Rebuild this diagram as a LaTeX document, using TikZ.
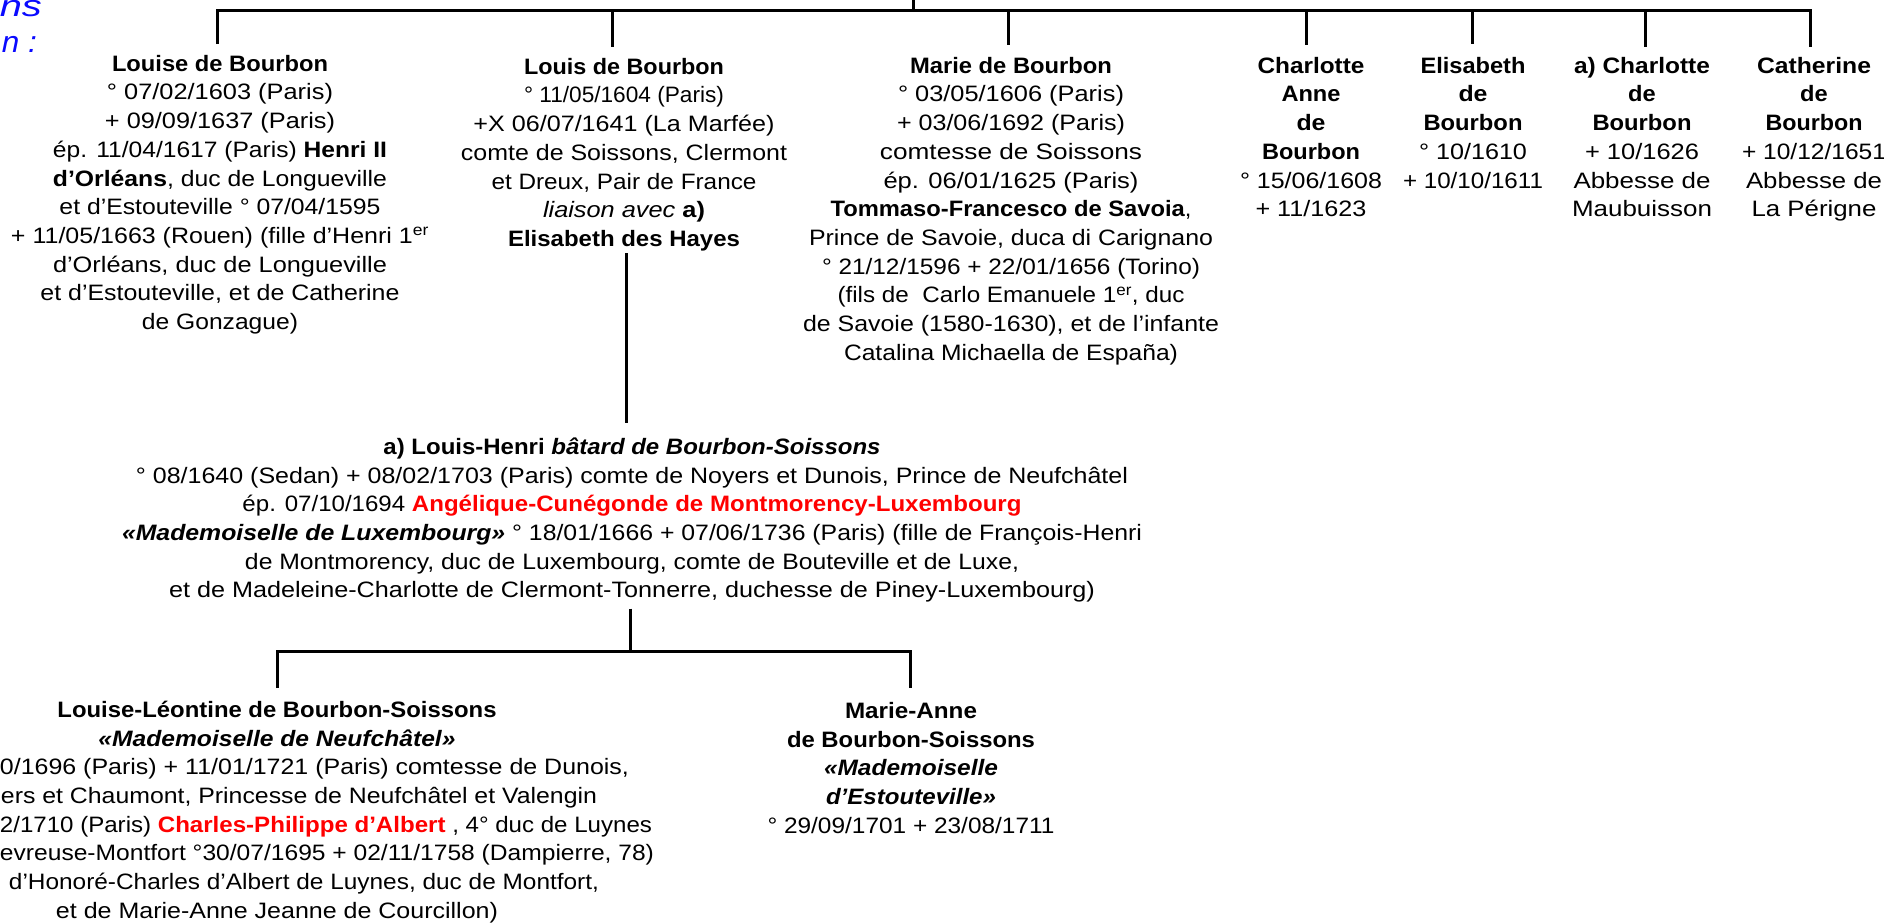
\documentclass[tikz,border=0pt]{standalone}
\usepackage{fontspec}
\setmainfont{Liberation Sans}[FakeStretch=1.06]
\usepackage{xcolor}
\usepackage{graphicx}
\definecolor{redname}{RGB}{255,0,0}
\definecolor{bluetitle}{RGB}{10,10,255}
\newcommand\fs{\fontsize{22.3}{28.7}\selectfont}
\newcommand\rd[1]{\textcolor{redname}{\textbf{#1}}}
\newcommand\bi[1]{\textbf{\textit{#1}}}
% one line, set to the width that the reference gives it
\newcommand\W[2]{\resizebox{#1pt}{\height}{#2}}
\begin{document}
\begin{tikzpicture}[x=1pt,y=-1pt,
  ln/.style={line width=3pt},
  person/.style={anchor=north,inner sep=0pt,align=center,font=\fs},
  titletext/.style={anchor=base east,inner sep=0pt,text=bluetitle,font=\fontsize{30}{36}\selectfont\itshape}]
\useasboundingbox (0,0) rectangle (1884,922);

% blue title fragments
\node[titletext] (t1) at (42,16) {\W{42}{ns}};
\node[titletext] (t2) at (37,52) {\W{35}{n :}};

% first generation
\node[person] (louise) at (220,51) {\strut\W{216}{\textbf{Louise de Bourbon}}\\
\W{226}{° 07/02/1603 (Paris)}\\
\W{230}{+ 09/09/1637 (Paris)}\\
\W{334}{ép. 11/04/1617 (Paris) \textbf{Henri II}}\\
\W{334}{\textbf{d’Orléans}, duc de Longueville}\\
\W{321}{et d’Estouteville ° 07/04/1595}\\
\W{418}{+ 11/05/1663 (Rouen) (fille d’Henri 1\textsuperscript{er}}\\
\W{334}{d’Orléans, duc de Longueville}\\
\W{359}{et d’Estouteville, et de Catherine}\\
\W{156}{de Gonzague)}};

\node[person] (louis) at (624,54) {\strut\W{200}{\textbf{Louis de Bourbon}}\\
\W{200}{° 11/05/1604 (Paris)}\\
\W{301}{+X 06/07/1641 (La Marfée)}\\
\W{326}{comte de Soissons, Clermont}\\
\W{265}{et Dreux, Pair de France}\\
\W{162}{\textit{liaison avec} \textbf{a)}}\\
\W{232}{\textbf{Elisabeth des Hayes}}};

\node[person] (marie) at (1011,53) {\strut\W{202}{\textbf{Marie de Bourbon}}\\
\W{226}{° 03/05/1606 (Paris)}\\
\W{228}{+ 03/06/1692 (Paris)}\\
\W{262}{comtesse de Soissons}\\
\W{255}{ép. 06/01/1625 (Paris)}\\
\W{361}{\textbf{Tommaso-Francesco de Savoia},}\\
\W{404}{Prince de Savoie, duca di Carignano}\\
\W{378}{° 21/12/1596 + 22/01/1656 (Torino)}\\
\W{347}{(fils de~ Carlo Emanuele 1\textsuperscript{er}, duc}\\
\W{416}{de Savoie (1580-1630), et de l’infante}\\
\W{334}{Catalina Michaella de España)}};

\node[person] (charlanne) at (1311,53) {\strut\W{107}{\textbf{Charlotte}}\\
\W{59}{\textbf{Anne}}\\
\W{29}{\textbf{de}}\\
\W{98}{\textbf{Bourbon}}\\
\W{142}{° 15/06/1608}\\
\W{111}{+ 11/1623}};

\node[person] (elisab) at (1473,53) {\strut\W{105}{\textbf{Elisabeth}}\\
\W{29}{\textbf{de}}\\
\W{99}{\textbf{Bourbon}}\\
\W{108}{° 10/1610}\\
\W{140}{+ 10/10/1611}};

\node[person] (acharl) at (1642,53) {\strut\W{136}{\textbf{a) Charlotte}}\\
\textbf{de}\\
\W{99}{\textbf{Bourbon}}\\
\W{114}{+ 10/1626}\\
\W{137}{Abbesse de}\\
\W{140}{Maubuisson}};

\node[person] (cather) at (1814,53) {\strut\W{114}{\textbf{Catherine}}\\
\textbf{de}\\
\W{97}{\textbf{Bourbon}}\\
\W{144}{+ 10/12/1651}\\
\W{136}{Abbesse de}\\
\W{125}{La Périgne}};

% second generation
\node[person] (louishenri) at (632,434) {\strut\W{497}{\textbf{a) Louis-Henri \textit{bâtard de Bourbon-Soissons}}}\\
\W{992}{° 08/1640 (Sedan) + 08/02/1703 (Paris) comte de Noyers et Dunois, Prince de Neufchâtel}\\
\W{779}{ép. 07/10/1694 \rd{Angélique-Cunégonde de Montmorency-Luxembourg}}\\
\W{1020}{\bi{«Mademoiselle de Luxembourg»} ° 18/01/1666 + 07/06/1736 (Paris) (fille de François-Henri}\\
\W{774}{de Montmorency, duc de Luxembourg, comte de Bouteville et de Luxe,}\\
\W{926}{et de Madeleine-Charlotte de Clermont-Tonnerre, duchesse de Piney-Luxembourg)}};

% third generation
\node[person] (leontine) at (277,697) {\strut\W{439}{\textbf{Louise-Léontine de Bourbon-Soissons}}\\
\W{357}{\bi{«Mademoiselle de Neufchâtel»}}\\
\makebox[704pt][r]{\W{629}{0/1696 (Paris) + 11/01/1721 (Paris) comtesse de Dunois,}}\\
\makebox[640pt][r]{\W{596}{ers et Chaumont, Princesse de Neufchâtel et Valengin}}\\
\makebox[750pt][r]{\W{652}{2/1710 (Paris) \rd{Charles-Philippe d’Albert} , 4° duc de Luynes}}\\
\makebox[754pt][r]{\W{654}{evreuse-Montfort °30/07/1695 + 02/11/1758 (Dampierre, 78)}}\\
\makebox[644pt][r]{\W{590}{d’Honoré-Charles d’Albert de Luynes, duc de Montfort,}}\\
\W{442}{et de Marie-Anne Jeanne de Courcillon)}};

\node[person] (marieanne) at (911,698) {\strut\W{132}{\textbf{Marie-Anne}}\\
\W{248}{\textbf{de Bourbon-Soissons}}\\
\W{174}{\bi{«Mademoiselle}}\\
\W{170}{\bi{d’Estouteville»}}\\
\W{287}{° 29/09/1701 + 23/08/1711}};

% connectors, generation 1
\coordinate (parent) at (913,0);
\coordinate (bar1) at (913,10);
\coordinate (dLouise) at ([xshift=-3pt,yshift=7pt]louise.north);
\coordinate (dLouis) at ([xshift=-12pt,yshift=7pt]louis.north);
\coordinate (dMarie) at ([xshift=-3pt,yshift=8pt]marie.north);
\coordinate (dCharlA) at ([xshift=-5pt,yshift=8pt]charlanne.north);
\coordinate (dElis) at ([xshift=-1pt,yshift=9pt]elisab.north);
\coordinate (dACharl) at ([xshift=3pt,yshift=6pt]acharl.north);
\coordinate (dCath) at ([xshift=-4pt,yshift=6pt]cather.north);
\draw[ln] (parent) -- (bar1);
\draw[ln] (dLouise) -- (dLouise |- bar1) -- (dCath |- bar1) -- (dCath);
\foreach \d in {dLouis,dMarie,dCharlA,dElis,dACharl}
  \draw[ln] (\d |- bar1) -- (\d);

% Louis -> Louis-Henri
\coordinate (lsrc) at ([xshift=2pt,yshift=-2pt]louis.south);
\coordinate (ldst) at ([yshift=11pt]louishenri.north);
\draw[ln] (lsrc) -- (lsrc |- ldst);

% Louis-Henri -> children
\coordinate (hsrc) at ([xshift=-2pt,yshift=-6pt]louishenri.south);
\coordinate (bar2) at ([yshift=-43pt]hsrc);
\coordinate (dLeon) at ([yshift=9pt]leontine.north);
\coordinate (dMA) at ([xshift=-1pt,yshift=10pt]marieanne.north);
\draw[ln] (hsrc) -- (bar2);
\draw[ln] (dLeon) -- (dLeon |- bar2) -- (dMA |- bar2) -- (dMA);
\end{tikzpicture}
\end{document}
